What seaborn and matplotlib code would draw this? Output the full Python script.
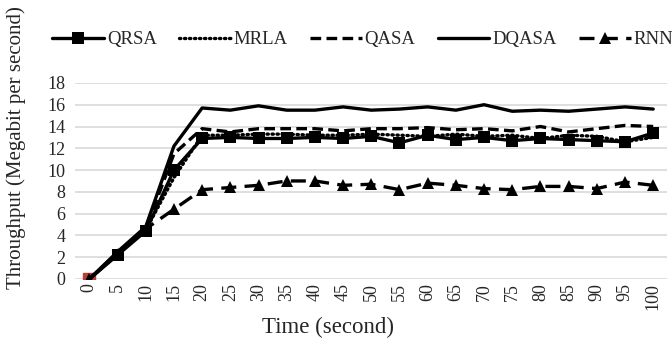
import matplotlib
matplotlib.use("Agg")
import matplotlib.pyplot as plt
import seaborn as sns
import numpy as np

times = [0, 5, 10, 15, 20, 25, 30, 35, 40, 45, 50, 55, 60, 65, 70, 75, 80, 85, 90, 95, 100]
qrsa = [0, 2.2, 4.4, 10.0, 12.9, 13.0, 12.9, 12.9, 13.0, 12.9, 13.1, 12.5, 13.2, 12.8, 13.0, 12.7, 12.9, 12.8, 12.7, 12.6, 13.4]
mrla = [0, 2.3, 4.5, 9.3, 13.2, 13.2, 13.3, 13.3, 13.2, 13.2, 13.3, 13.2, 13.1, 13.3, 13.1, 13.2, 12.9, 13.2, 13.1, 12.6, 13.0]
qasa = [0, 2.4, 4.6, 11.5, 13.8, 13.5, 13.8, 13.8, 13.8, 13.6, 13.8, 13.8, 13.9, 13.7, 13.8, 13.6, 14.0, 13.5, 13.8, 14.1, 14.0]
dqasa = [0, 2.5, 4.8, 12.2, 15.7, 15.5, 15.9, 15.5, 15.5, 15.8, 15.5, 15.6, 15.8, 15.5, 16.0, 15.4, 15.5, 15.4, 15.6, 15.8, 15.6]
rnn = [0, 2.3, 4.6, 6.4, 8.2, 8.4, 8.6, 9.0, 9.0, 8.6, 8.7, 8.2, 8.8, 8.6, 8.3, 8.2, 8.5, 8.5, 8.3, 8.9, 8.6]
yticks = [0, 2, 4, 6, 8, 10, 12, 14, 16, 18]

sns.set_theme(style="white")
plt.rcParams['font.family'] = ['Liberation Serif', 'DejaVu Serif']

fig = plt.figure(figsize=(6.72, 3.47), dpi=100)
ax = fig.add_axes([0.112, 0.196, 0.881, 0.565])

lw = 2.4
# red origin marker
ax.plot([times[0]], [qrsa[0]], marker='s', color='#b5403a', markersize=8, linestyle='none', zorder=1)

sns.lineplot(x=times, y=qrsa, ax=ax, color='black', lw=lw, marker='s', markersize=8,
             markeredgewidth=0, markevery=list(range(1, len(times))), label='QRSA', zorder=5)
sns.lineplot(x=times, y=mrla, ax=ax, color='black', lw=lw, label='MRLA', zorder=4,
             linestyle=(0, (0.4, 1.1)))
sns.lineplot(x=times, y=qasa, ax=ax, color='black', lw=lw, label='QASA', zorder=3,
             linestyle=(0, (3.2, 1.6)))
sns.lineplot(x=times, y=dqasa, ax=ax, color='black', lw=lw, label='DQASA', zorder=3)
sns.lineplot(x=times, y=rnn, ax=ax, color='black', lw=lw, marker='^', markersize=9,
             markeredgewidth=0, label='RNN', zorder=3, linestyle=(0, (4.5, 2.5)))

for ln in ax.get_lines():
    if ln.get_label() == 'MRLA':
        ln.set_dash_capstyle('round')

ax.set_xlim(-2.5, 102.5)
ax.set_ylim(0, 18)
ax.set_xticks(times)
ax.set_xticklabels([str(t) for t in times], rotation=90, fontsize=13)
ax.set_yticks(yticks)
ax.set_yticklabels([str(v) for v in yticks], fontsize=13)
ax.yaxis.grid(True, color='#d9d9d9', lw=1.2)
ax.set_axisbelow(True)
for s in ax.spines.values():
    s.set_visible(False)
ax.tick_params(axis='y', length=0, pad=7)
ax.tick_params(axis='x', length=0, pad=3)
ax.set_xlabel('Time (second)', fontsize=16.5)
ax.set_ylabel('Throughput (Megabit per second)', fontsize=15)
ax.xaxis.set_label_coords(0.427, -0.195)
ax.yaxis.set_label_coords(-0.083, 0.672)
ax.xaxis.label.set_va('top')

handles, labels = ax.get_legend_handles_labels()
ax.get_legend().remove()
fig.legend(handles, labels, loc='center left', bbox_to_anchor=(0.078, 0.885), ncol=5,
           frameon=False, fontsize=13.5, handlelength=2.75, columnspacing=1.2,
           handletextpad=0.15, borderaxespad=0, borderpad=0)

fig.savefig('out.png', dpi=100)
